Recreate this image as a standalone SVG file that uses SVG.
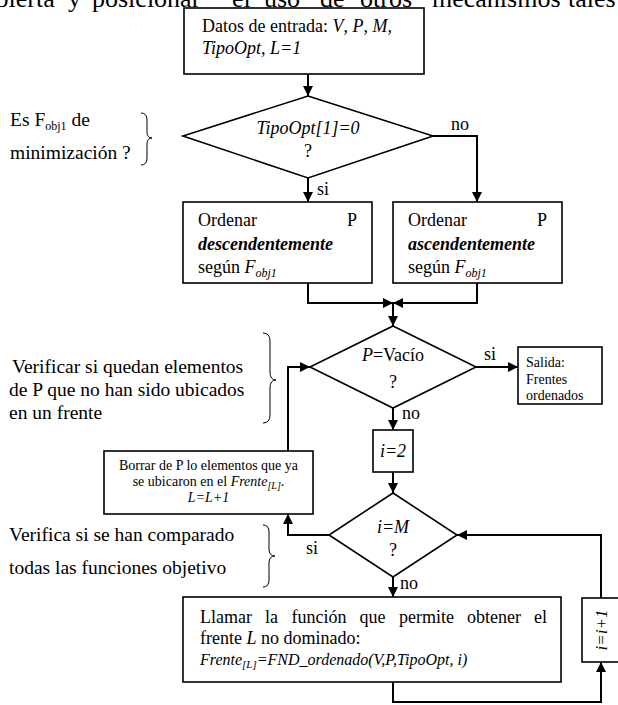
<svg xmlns="http://www.w3.org/2000/svg" width="618" height="705" viewBox="0 0 618 705">
<style>
.t{font-family:"Liberation Serif","Times New Roman",serif;fill:#000;font-size:18px}
.a{font-size:19.5px}
.s{font-size:14px}
.it{font-style:italic}
.bi{font-style:italic;font-weight:bold}
.box{fill:#fff;stroke:#000;stroke-width:1.6}
.ln{fill:none;stroke:#000;stroke-width:2}
.br{fill:none;stroke:#000;stroke-width:1}
</style>
<defs>
<marker id="ar" viewBox="0 0 10 10" refX="10" refY="5" markerWidth="10" markerHeight="10" markerUnits="userSpaceOnUse" orient="auto">
<path d="M0,0 L10,5 L0,10 z" fill="#000"/>
</marker>
</defs>
<rect width="618" height="705" fill="#fff"/>

<text class="t" style="font-size:26px" y="7"><tspan x="-16">abierta</tspan><tspan x="68">y</tspan><tspan x="92">posicionar</tspan><tspan x="232">el</tspan><tspan x="264">uso</tspan><tspan x="320">de</tspan><tspan x="360">otros</tspan><tspan x="432">mecanismos</tspan><tspan x="568">tales</tspan></text>

<g id="notes">
<text class="t a" x="10" y="126">Es F<tspan font-size="12" dy="4">obj1</tspan><tspan dy="-4"> de</tspan></text>
<text class="t a" x="10" y="159">minimización ?</text>
<path class="br" d="M141,113 Q147,113 147,120 L147,132 Q147,138 152,138 Q147,138 147,144 L147,158 Q147,165 141,165"/>
<text class="t a" x="12" y="373">Verificar si quedan elementos</text>
<text class="t a" x="9" y="396">de P que no han sido ubicados</text>
<text class="t a" x="9" y="419">en un frente</text>
<path class="br" d="M263,333 Q270,333 270,341 L270,372 Q270,380 276,380 Q270,380 270,388 L270,415 Q270,423 263,423"/>
<text class="t a" x="9" y="541">Verifica si se han comparado</text>
<text class="t a" x="9" y="574">todas las funciones objetivo</text>
<path class="br" d="M263,525 Q269,525 269,532 L269,549 Q269,556 275,556 Q269,556 269,563 L269,580 Q269,587 263,587"/>
</g>

<g id="connectors">
<path class="ln" d="M308,74 L308,96" marker-end="url(#ar)"/>
<path class="ln" d="M308,178 L308,202" marker-end="url(#ar)"/>
<path class="ln" d="M433,136 L477,136 L477,202" marker-end="url(#ar)"/>
<path class="ln" d="M308,283 L308,303 L393,303" marker-end="url(#ar)"/>
<path class="ln" d="M477,283 L477,303 L393,303" marker-end="url(#ar)"/>
<path class="ln" d="M393,303 L393,326" marker-end="url(#ar)"/>
<path class="ln" d="M476,367 L518,367" marker-end="url(#ar)"/>
<path class="ln" d="M393,408 L393,430" marker-end="url(#ar)"/>
<path class="ln" d="M393,472 L393,493" marker-end="url(#ar)"/>
<path class="ln" d="M329,535 L288,535 L288,514" marker-end="url(#ar)"/>
<path class="ln" d="M288,451 L288,367 L310,367" marker-end="url(#ar)"/>
<path class="ln" d="M393,577 L393,597" marker-end="url(#ar)"/>
<path class="ln" d="M393,682 L393,702 L601,702 L601,662" marker-end="url(#ar)"/>
<path class="ln" d="M601,598 L601,535 L457,535" marker-end="url(#ar)"/>
<text class="t" x="317" y="195">si</text>
<text class="t" x="451" y="130">no</text>
<text class="t" x="484" y="360">si</text>
<text class="t" x="402" y="419">no</text>
<text class="t" x="306" y="554">si</text>
<text class="t" x="400" y="589">no</text>
</g>

<g id="start">
<rect class="box" x="184" y="8" width="240" height="66"/>
<text class="t" x="202" y="32">Datos de entrada: <tspan class="it">V</tspan>, <tspan class="it">P</tspan>, <tspan class="it">M</tspan>,</text>
<text class="t" x="202" y="54"><tspan class="it">TipoOpt</tspan>, <tspan class="it">L=1</tspan></text>
</g>

<g id="dec1">
<polygon class="box" points="308,96 433,136 308,178 183,136"/>
<text class="t it" x="308" y="134" text-anchor="middle">TipoOpt[1]=0</text>
<text class="t" x="308" y="157" text-anchor="middle">?</text>
</g>

<g id="desc">
<rect class="box" x="183" y="202" width="189" height="81"/>
<text class="t" x="198" y="226">Ordenar</text>
<text class="t" x="357" y="226" text-anchor="end">P</text>
<text class="t bi" x="198" y="250">descendentemente</text>
<text class="t" x="198" y="273">según <tspan class="it">F</tspan><tspan class="it" font-size="12" dy="4">obj1</tspan></text>
</g>

<g id="asc">
<rect class="box" x="393" y="202" width="169" height="81"/>
<text class="t" x="408" y="226">Ordenar</text>
<text class="t" x="547" y="226" text-anchor="end">P</text>
<text class="t bi" x="408" y="250">ascendentemente</text>
<text class="t" x="408" y="273">según <tspan class="it">F</tspan><tspan class="it" font-size="12" dy="4">obj1</tspan></text>
</g>

<g id="dec2">
<polygon class="box" points="393,326 476,367 393,408 310,367"/>
<text class="t" x="393" y="361" text-anchor="middle"><tspan class="it">P</tspan>=Vacío</text>
<text class="t" x="393" y="388" text-anchor="middle">?</text>
</g>

<g id="salida">
<rect class="box" x="518" y="347" width="84" height="57"/>
<text class="t s" x="526" y="367">Salida:</text>
<text class="t s" x="526" y="384">Frentes</text>
<text class="t s" x="526" y="400">ordenados</text>
</g>

<g id="init">
<rect class="box" x="373" y="430" width="40" height="42"/>
<text class="t it" x="393" y="457" text-anchor="middle">i=2</text>
</g>

<g id="borrar">
<rect class="box" x="104" y="451" width="209" height="63"/>
<text class="t s" x="208.5" y="470" text-anchor="middle">Borrar de P lo elementos que ya</text>
<text class="t s" x="208.5" y="486" text-anchor="middle">se ubicaron en el <tspan class="it">Frente</tspan><tspan class="it" font-size="10" dy="3">[L]</tspan><tspan dy="-3">.</tspan></text>
<text class="t s it" x="208.5" y="502" text-anchor="middle">L=L+1</text>
</g>

<g id="dec3">
<polygon class="box" points="393,493 457,535 393,577 329,535"/>
<text class="t it" x="393" y="533" text-anchor="middle">i=M</text>
<text class="t" x="393" y="556" text-anchor="middle">?</text>
</g>

<g id="llamar">
<rect class="box" x="183" y="597" width="378" height="85"/>
<text class="t" y="623"><tspan x="200">Llamar</tspan><tspan x="265">la</tspan><tspan x="291.5">función</tspan><tspan x="359.5">que</tspan><tspan x="399">permite</tspan><tspan x="467">obtener</tspan><tspan x="534">el</tspan></text>
<text class="t" x="200" y="644">frente <tspan class="it">L</tspan> no dominado:</text>
<text class="t it" style="font-size:16px" x="200" y="665">Frente<tspan font-size="11" dy="3">[L]</tspan><tspan dy="-3">=FND_ordenado(V,P,TipoOpt, i)</tspan></text>
</g>

<g id="incr">
<rect class="box" x="582" y="598" width="38" height="64"/>
<text class="t it" style="font-size:17px" transform="translate(607,630) rotate(-90)" text-anchor="middle">i=i+1</text>
</g>
</svg>
